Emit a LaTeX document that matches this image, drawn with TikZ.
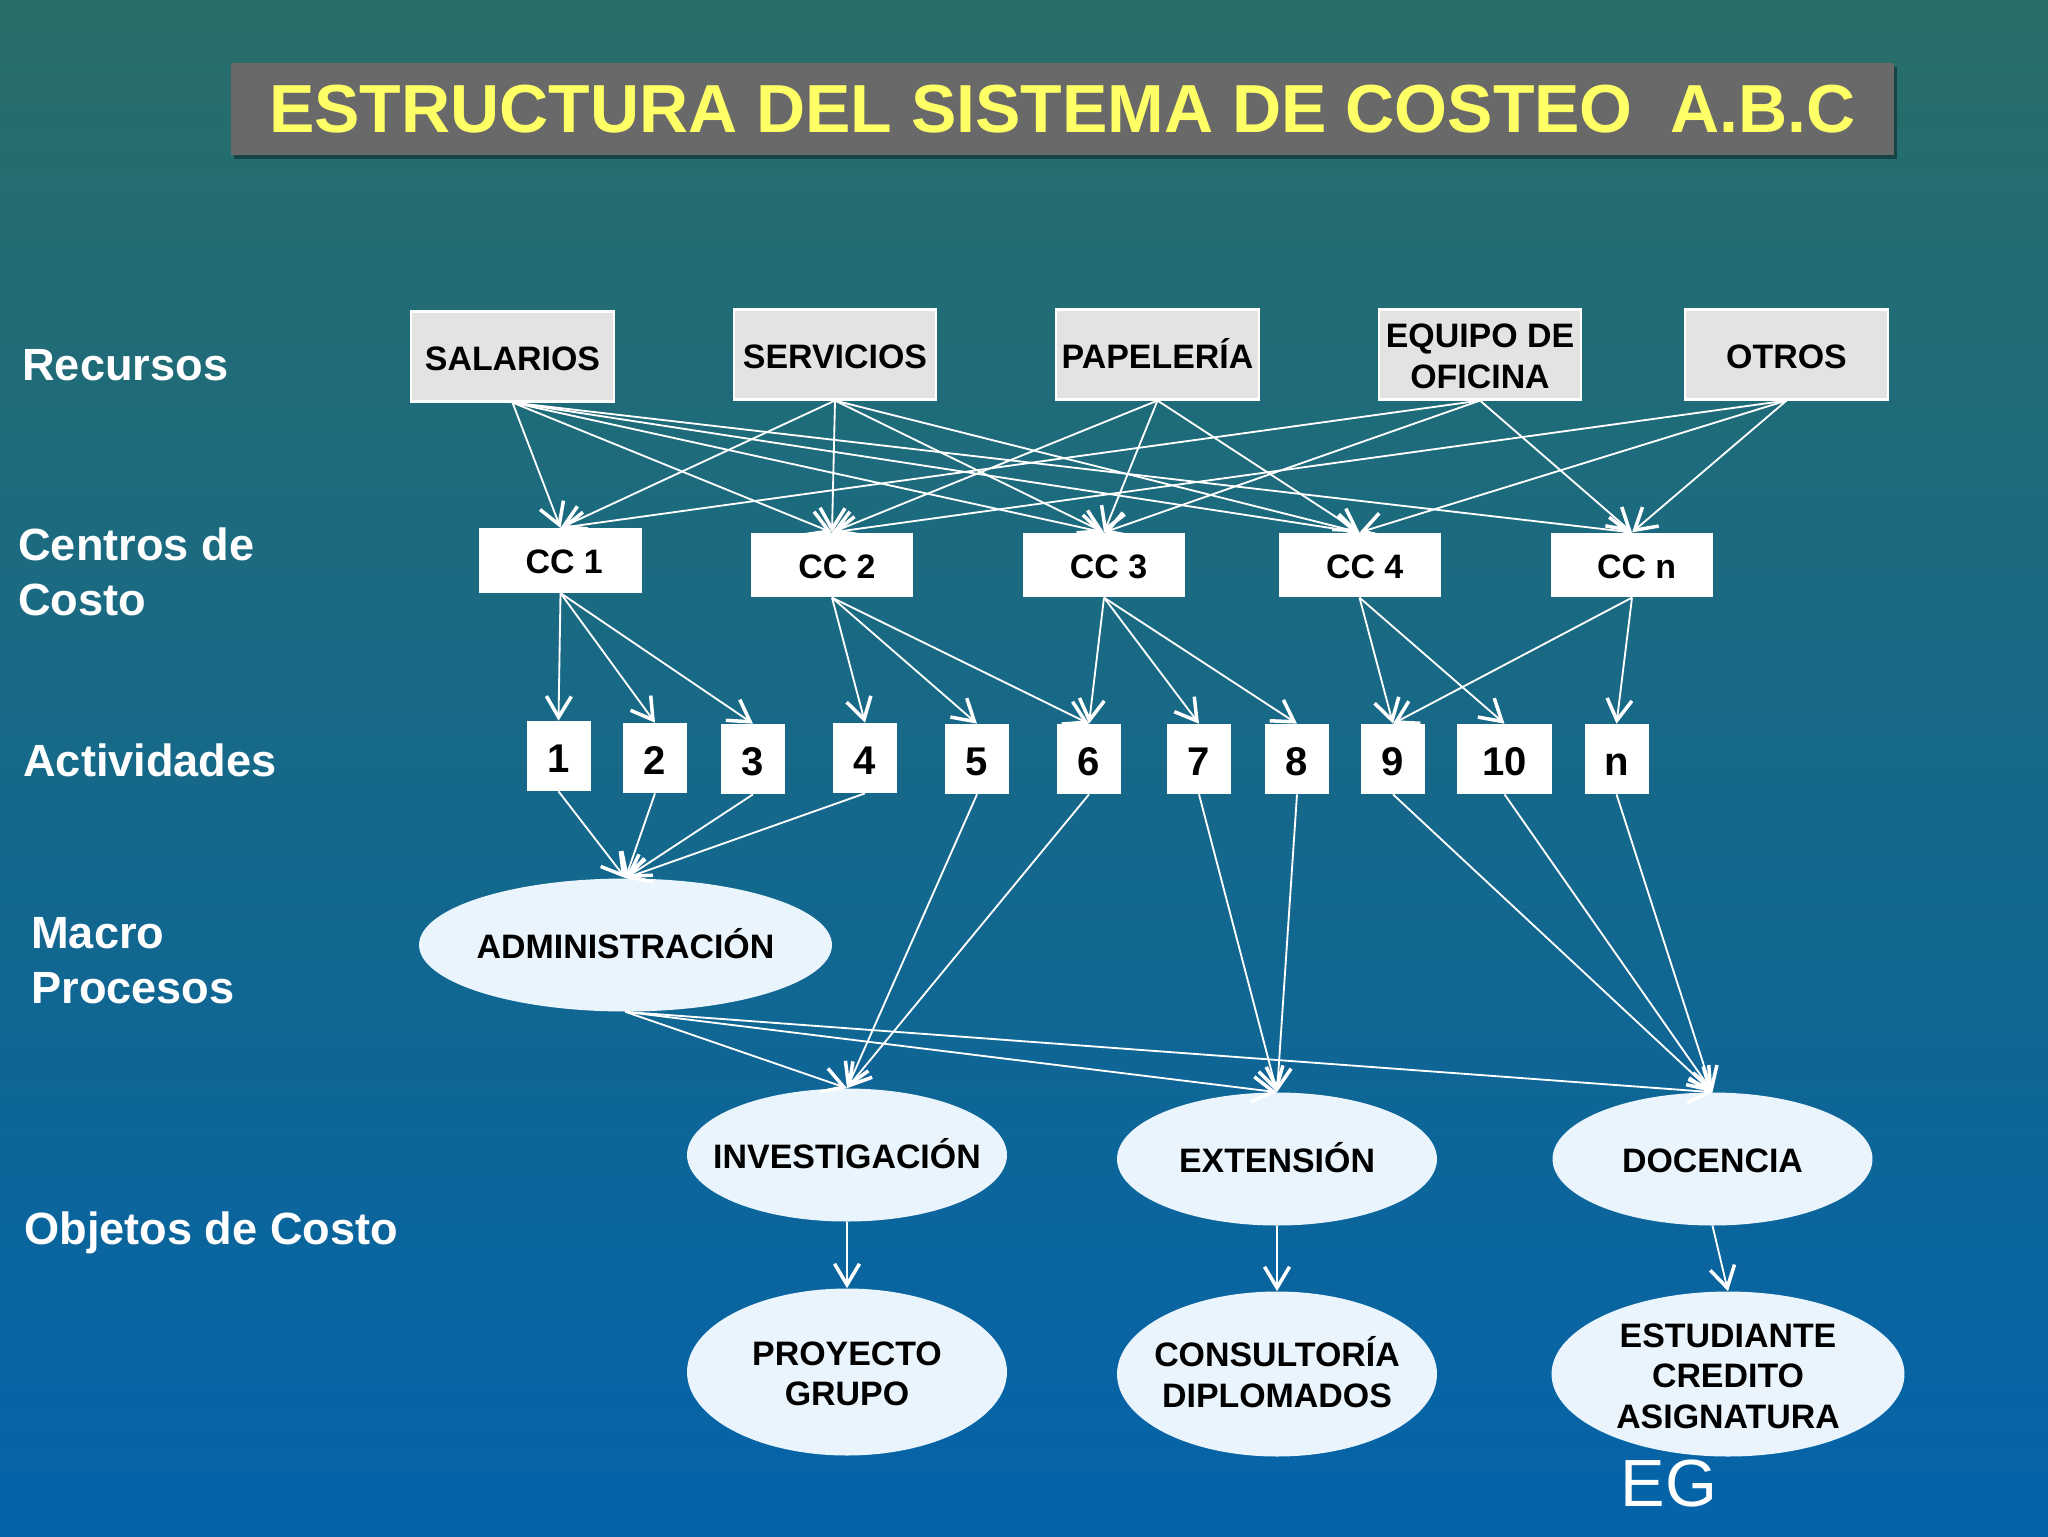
\documentclass[tikz,border=0pt]{standalone}
\usepackage{fontspec}
\setmainfont{Liberation Sans}
\usetikzlibrary{arrows.meta,shapes.geometric,shadows}
\definecolor{bgtop}{HTML}{286E68}
\definecolor{bgbot}{HTML}{0463AA}
\definecolor{titlegrey}{HTML}{696969}
\definecolor{titleyellow}{HTML}{FFFF66}
\definecolor{resgrey}{HTML}{E3E3E3}
\definecolor{ellfill}{HTML}{EAF4FC}
\newcommand{\lowerby}[1]{\rule{0pt}{#1}}
\newcommand{\raiseby}[1]{\rule[-#1]{0pt}{0pt}}
\tikzset{
  x=0.02cm,y=-0.02cm,
  titlebox/.style={rectangle,fill=titlegrey,minimum width=33.26cm,minimum height=1.84cm,inner sep=0pt,
    general shadow={shadow xshift=0.06cm,shadow yshift=-0.08cm,fill=black,opacity=.38},
    text=titleyellow,font=\fontsize{38.7}{44}\selectfont\bfseries},
  sidelabel/.style={anchor=west,align=left,inner sep=0pt,text=white,font=\fontsize{25.7}{31.3}\selectfont\bfseries},
  resbox/.style={rectangle,fill=resgrey,draw=white,line width=1.2pt,minimum width=4.05cm,minimum height=1.8cm,inner sep=0pt,align=center,
    text=black,font=\fontsize{19.3}{23.3}\selectfont\bfseries},
  ressingle/.style={resbox,text height=.55cm,text depth=0pt},
  ccbox/.style={rectangle,fill=white,minimum width=3.24cm,minimum height=1.29cm,inner sep=0pt,
    text height=.53cm,text depth=0pt,
    text=black,font=\fontsize{19.3}{22}\selectfont\bfseries},
  actbox/.style={rectangle,fill=white,minimum width=1.28cm,minimum height=1.4cm,inner sep=0pt,
    text height=.67cm,text depth=0pt,
    text=black,font=\fontsize{22.8}{26}\selectfont\bfseries},
  procell/.style={ellipse,fill=ellfill,minimum width=6.4cm,minimum height=2.66cm,inner sep=-0.9cm,align=center,
    text=black,font=\fontsize{19.3}{23.2}\selectfont\bfseries},
  procsingle/.style={procell,text height=.52cm,text depth=0pt},
  lnk/.style={draw=white,line width=1.05pt,-{Straight Barb[length=0.42cm,width=0.5cm,line width=2pt]}},
}
\begin{document}
\begin{tikzpicture}
\useasboundingbox (0,0) rectangle (2048,1536);
\shade[top color=bgtop,bottom color=bgbot] (0,0) rectangle (2048,1536);

\node[titlebox] (title) at (1062.5,109) {ESTRUCTURA DEL SISTEMA DE COSTEO\ \ A.B.C};

\node[sidelabel] (lrec) at (22,365) {Recursos};
\node[sidelabel] (lcen) at (18,572) {Centros de\\Costo};
\node[sidelabel] (lact) at (23,760) {Actividades};
\node[sidelabel] (lmac) at (31,961) {Macro\\Procesos};
\node[sidelabel] (lobj) at (24,1233) {Objetos de Costo};

\node[ressingle] (r1) at (512.5,356.5) {SALARIOS};
\node[ressingle] (r2) at (835,354.5) {SERVICIOS};
\node[ressingle] (r3) at (1157.5,354.5) {PAPELERÍA};
\node[resbox] (r4) at (1480,354.5) {\lowerby{15.5pt}EQUIPO DE\\OFICINA};
\node[ressingle] (r5) at (1786.5,354.5) {OTROS};

\node[ccbox,minimum width=3.28cm] (c1) at (560.5,560.5) {\hspace*{0.15cm}CC 1};
\node[ccbox] (c2) at (832,565) {\hspace*{0.2cm}CC 2};
\node[ccbox] (c3) at (1104,565) {\hspace*{0.184cm}CC 3};
\node[ccbox] (c4) at (1359.5,565) {\hspace*{0.21cm}CC 4};
\node[ccbox] (c5) at (1632,565) {\hspace*{0.184cm}CC n};

\node[actbox] (a1) at (558.5,756) {1};
\node[actbox] (a2) at (655,758) {2};
\node[actbox] (a3) at (753,759) {3};
\node[actbox] (a4) at (865,758) {4};
\node[actbox] (a5) at (977,759) {5};
\node[actbox] (a6) at (1089,759) {6};
\node[actbox] (a7) at (1199,759) {7};
\node[actbox] (a8) at (1297,759) {8};
\node[actbox] (a9) at (1393,759) {9};
\node[actbox,minimum width=1.9cm] (a10) at (1504.5,759) {10};
\node[actbox] (an) at (1616.5,759) {n};

\node[procsingle,minimum width=8.26cm] (adm) at (625.5,945) {ADMINISTRACIÓN};
\node[procsingle] (inv) at (847,1155) {INVESTIGACIÓN};
\node[procsingle] (ext) at (1277,1159) {EXTENSIÓN};
\node[procsingle] (doc) at (1712.5,1159) {DOCENCIA};
\node[procell,minimum height=3.34cm] (pro) at (847,1372) {\lowerby{15.5pt}PROYECTO\\GRUPO};
\node[procell,minimum height=3.3cm] (con) at (1277,1374) {CONSULTORÍA\\DIPLOMADOS\raiseby{2.2pt}};
\node[procell,minimum width=7.06cm,minimum height=3.3cm] (est) at (1728,1374) {\lowerby{16pt}ESTUDIANTE\\CREDITO\\ASIGNATURA};

\node[inner sep=0pt,text=white,font=\fontsize{38}{40}\selectfont] (eg) at (1669,1483) {EG};

\foreach \s/\t in {r1/c1,r1/c2,r1/c3,r1/c4,r1/c5,r2/c1,r2/c2,r2/c3,r2/c4,r3/c2,r3/c3,r3/c4,r4/c1,r4/c3,r4/c5,r5/c2,r5/c4,r5/c5,
  c1/a1,c1/a2,c1/a3,c2/a4,c2/a5,c2/a6,c3/a6,c3/a7,c3/a8,c4/a9,c4/a10,c5/a9,c5/an,
  a1/adm,a2/adm,a3/adm,a4/adm,a5/inv,a6/inv,a7/ext,a8/ext,a9/doc,a10/doc,an/doc,
  adm/inv,adm/ext,adm/doc,inv/pro,ext/con,doc/est}
  \draw[lnk] (\s.south) -- (\t.north);
\end{tikzpicture}
\end{document}
